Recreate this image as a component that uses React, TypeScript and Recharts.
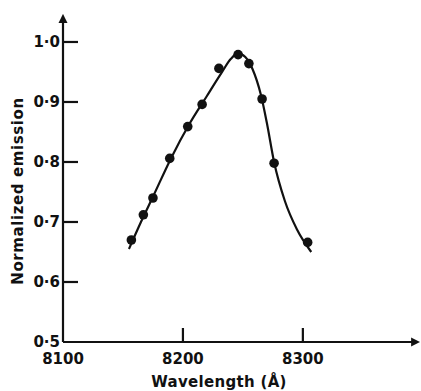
import React from "react";
import { ComposedChart, Line, Scatter, XAxis, YAxis } from "recharts";

// measured points (wavelength in Å, normalized emission)
const pointWavelengths = [8157, 8167, 8175, 8189, 8204, 8216, 8230, 8246, 8255, 8266, 8276, 8304];
const pointValues = [0.67, 0.712, 0.74, 0.806, 0.859, 0.896, 0.956, 0.979, 0.964, 0.905, 0.798, 0.666];

// fitted curve
const curveWavelengths = [8155, 8165, 8175, 8190, 8205, 8220, 8232, 8240, 8246, 8252, 8258, 8265, 8270, 8276, 8285, 8295, 8307];
const curveValues = [0.655, 0.7, 0.742, 0.806, 0.862, 0.91, 0.948, 0.972, 0.981, 0.975, 0.955, 0.912, 0.865, 0.8, 0.735, 0.688, 0.65];

const xTicks = [8100, 8200, 8300];
const yTicks = [0.5, 0.6, 0.7, 0.8, 0.9, 1.0];

const points = pointWavelengths.map((x, i) => ({ x, y: pointValues[i] }));
const curve = curveWavelengths.map((x, i) => ({ x, y: curveValues[i] }));
// inward tick marks, placed on the axes through the chart scales
const xMarks = xTicks.slice(1).map((x) => ({ x, y: yTicks[0] }));
const yMarks = yTicks.slice(1).map((y) => ({ x: xTicks[0], y }));

const FONT = "DejaVu Sans, sans-serif";
const INK = "#111";
const tickStyle = { fill: INK, fontFamily: FONT, fontWeight: "bold", fontSize: 15 };

const Dot = (props: any) => <circle cx={props.cx} cy={props.cy} r={4.8} fill={INK} />;
// tick marks drawn as thin filled bars
const XMark = (props: any) => (
  <rect x={props.cx - 1.1} y={props.cy - 14} width={2.2} height={14} fill={INK} />
);
const YMark = (props: any) => (
  <rect x={props.cx} y={props.cy - 1.1} width={15} height={2.2} fill={INK} />
);

export default function App() {
  return (
    <div style={{ position: "absolute", left: 0, top: 0, background: "#fff" }}>
      <svg width={0} height={0} style={{ position: "absolute" }}>
        <defs>
          <marker id="arrow" viewBox="0 0 10 10" refX={1} refY={5} markerWidth={9} markerHeight={10}
            markerUnits="userSpaceOnUse" orient="auto-start-reverse">
            <path d="M0,0 L10,5 L0,10 z" fill={INK} />
          </marker>
        </defs>
      </svg>
      <ComposedChart width={421} height={391} margin={{ top: 22, right: 9, left: 0, bottom: 0 }}>
        <XAxis
          type="number"
          dataKey="x"
          domain={[8100, 8391]}
          ticks={xTicks}
          allowDataOverflow
          height={49}
          tickLine={false}
          tickSize={0}
          tickMargin={11}
          tick={tickStyle}
          axisLine={{ stroke: INK, strokeWidth: 2.2, markerEnd: "url(#arrow)" }}
          label={{
            content: () => (
              <text x={219} y={387} textAnchor="middle" fontFamily={FONT} fontWeight="bold" fontSize={15} letterSpacing={0.3} fill={INK}>
                Wavelength (Å)
              </text>
            ),
          }}
        />
        <YAxis
          type="number"
          dataKey="y"
          domain={[0.5, 1.0333]}
          ticks={yTicks}
          allowDataOverflow
          width={63}
          tickLine={false}
          tickSize={0}
          tickMargin={3}
          tick={tickStyle}
          tickFormatter={(v: number) => v.toFixed(1).replace(".", "·")}
          axisLine={{ stroke: INK, strokeWidth: 2.2, markerStart: "url(#arrow)" }}
          label={{
            content: () => (
              <text x={23} y={191} transform="rotate(-90 23 191)" textAnchor="middle" fontFamily={FONT} fontWeight="bold" fontSize={15} letterSpacing={0.6} fill={INK}>
                Normalized emission
              </text>
            ),
          }}
        />
        <Scatter data={xMarks} dataKey="y" shape={<XMark />} isAnimationActive={false} />
        <Scatter data={yMarks} dataKey="y" shape={<YMark />} isAnimationActive={false} />
        <Line
          data={curve}
          dataKey="y"
          type="monotone"
          stroke={INK}
          strokeWidth={2.2}
          dot={false}
          activeDot={false}
          isAnimationActive={false}
        />
        <Scatter data={points} dataKey="y" shape={<Dot />} isAnimationActive={false} />
      </ComposedChart>
    </div>
  );
}
